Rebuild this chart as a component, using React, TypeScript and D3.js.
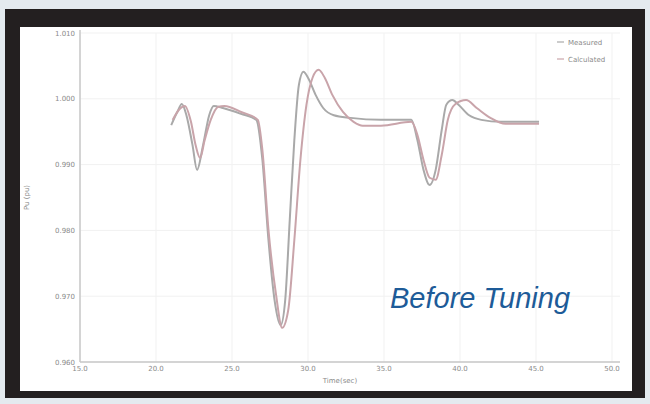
import React from "react"
import * as d3 from "d3"

// values
const xTicks = [15, 20, 25, 30, 35, 40, 45, 50]
const yTicks = [0.96, 0.97, 0.98, 0.99, 1.0, 1.01]

const measuredTime = [21.0, 21.4, 21.7, 22.0, 22.4, 22.7, 23.1, 23.5, 23.8, 24.4, 25.6, 26.6, 27.0, 27.4, 27.8, 28.2, 28.5, 28.8, 29.1, 29.4, 29.7, 30.0, 30.5, 31.0, 31.7, 32.8, 34.8, 36.8, 37.2, 37.6, 38.0, 38.4, 38.8, 39.1, 39.5, 39.9, 40.6, 41.4, 42.7, 45.2]
const measuredPu = [0.996, 0.998, 0.9992, 0.9975, 0.993, 0.9892, 0.993, 0.9975, 0.9989, 0.9986, 0.9977, 0.9968, 0.9907, 0.9785, 0.9694, 0.9656, 0.9694, 0.9816, 0.9937, 1.0021, 1.0041, 1.0032, 1.0006, 0.9986, 0.9975, 0.9971, 0.9968, 0.9968, 0.9937, 0.9892, 0.9869, 0.9892, 0.9953, 0.9991, 0.9998, 0.9991, 0.9975, 0.9968, 0.9965, 0.9965]

const calcTime = [21.1, 21.5, 21.9, 22.3, 22.6, 22.9, 23.2, 23.6, 24.1, 24.5, 25.6, 26.7, 27.0, 27.4, 27.9, 28.3, 28.7, 29.1, 29.5, 29.9, 30.3, 30.7, 31.1, 31.6, 32.3, 33.0, 33.6, 34.8, 36.8, 37.2, 37.6, 38.0, 38.4, 38.8, 39.2, 39.7, 40.4, 41.1, 42.0, 43.0, 45.2]
const calcPu = [0.9968, 0.9983, 0.9989, 0.9965, 0.993, 0.991, 0.9937, 0.9968, 0.9988, 0.9989, 0.998, 0.9968, 0.9922, 0.9801, 0.9702, 0.9652, 0.9679, 0.9785, 0.9907, 0.9991, 1.0032, 1.0044, 1.0032, 1.0006, 0.998, 0.9965, 0.9959, 0.9959, 0.9965, 0.9945, 0.9907, 0.988, 0.9877, 0.9915, 0.9968, 0.9992, 0.9998, 0.9986, 0.9971, 0.9962, 0.9962]

const seriesNames = ["Measured", "Calculated"]
const seriesColors = ["#a9a9a9", "#c9a4aa"]

interface Pt {
  t: number
  v: number
}

const App: React.FC = () => {
  const W = 650
  const H = 404
  // plot box
  const left = 80
  const right = 620
  const top = 33
  const bottom = 362

  const x = d3.scaleLinear().domain([15, 50.5]).range([left + 0, left + 35.5 * 15.2])
  const y = d3.scaleLinear().domain([0.96, 1.01]).range([bottom, top])

  const series: Pt[][] = [
    measuredTime.map((t, i) => ({ t, v: measuredPu[i] })),
    calcTime.map((t, i) => ({ t, v: calcPu[i] })),
  ]

  const line = d3
    .line<Pt>()
    .x((d) => x(d.t))
    .y((d) => y(d.v))
    .curve(d3.curveMonotoneX)

  const fx = d3.format(".1f")
  const fy = d3.format(".3f")

  return (
    <div style={{ position: "fixed", left: 0, top: 0 }}>
      <svg width={W} height={H} style={{ display: "block" }}>
        <rect x={0} y={0} width={W} height={H} fill="#e4eaef" />
        <rect x={5} y={9} width={640} height={389} fill="#231f20" />
        <rect x={20} y={27} width={612} height={364} fill="#ffffff" />

        {/* grid */}
        {xTicks.map((t) => (
          <line key={"gx" + t} x1={x(t)} x2={x(t)} y1={top} y2={bottom} stroke="#f1f1f1" />
        ))}
        {yTicks.map((t) => (
          <line key={"gy" + t} x1={left} x2={right} y1={y(t)} y2={y(t)} stroke="#f1f1f1" />
        ))}

        {/* axes */}
        <line x1={left} x2={left} y1={top - 3} y2={bottom} stroke="#c8c8c8" strokeWidth={1.5} />
        <line x1={left} x2={right} y1={bottom} y2={bottom} stroke="#c8c8c8" strokeWidth={1.5} />

        {yTicks.map((t) => (
          <text key={"ty" + t} x={left - 5} y={y(t) + 2.5} textAnchor="end" fontSize={7} fill="#8a8a8a" fontFamily="DejaVu Sans">
            {fy(t)}
          </text>
        ))}
        {xTicks.map((t) => (
          <text key={"tx" + t} x={x(t)} y={bottom + 9} textAnchor="middle" fontSize={7} fill="#8a8a8a" fontFamily="DejaVu Sans">
            {fx(t)}
          </text>
        ))}

        <text x={340} y={383} textAnchor="middle" fontSize={7} fill="#8a8a8a" fontFamily="DejaVu Sans">
          Time(sec)
        </text>
        <text
          transform={`translate(29, ${(top + bottom) / 2}) rotate(-90)`}
          textAnchor="middle"
          fontSize={7}
          fill="#8a8a8a"
          fontFamily="DejaVu Sans"
        >
          Pu (pu)
        </text>

        {/* series */}
        {series.map((s, i) => (
          <path key={seriesNames[i]} d={line(s) ?? ""} fill="none" stroke={seriesColors[i]} strokeWidth={2} />
        ))}

        {/* legend */}
        {seriesNames.map((n, i) => (
          <g key={"lg" + n} transform={`translate(557, ${42 + i * 17})`}>
            <line x1={0} x2={7} y1={0} y2={0} stroke={seriesColors[i]} strokeWidth={1.2} />
            <text x={11} y={2.5} fontSize={7} fill="#8a8a8a" fontFamily="DejaVu Sans">
              {n}
            </text>
          </g>
        ))}

        <text x={390} y={308} fontSize={29} fontStyle="italic" fill="#1d5b98" fontFamily="Liberation Sans, Arial, sans-serif">
          Before Tuning
        </text>
      </svg>
    </div>
  )
}

export default App
